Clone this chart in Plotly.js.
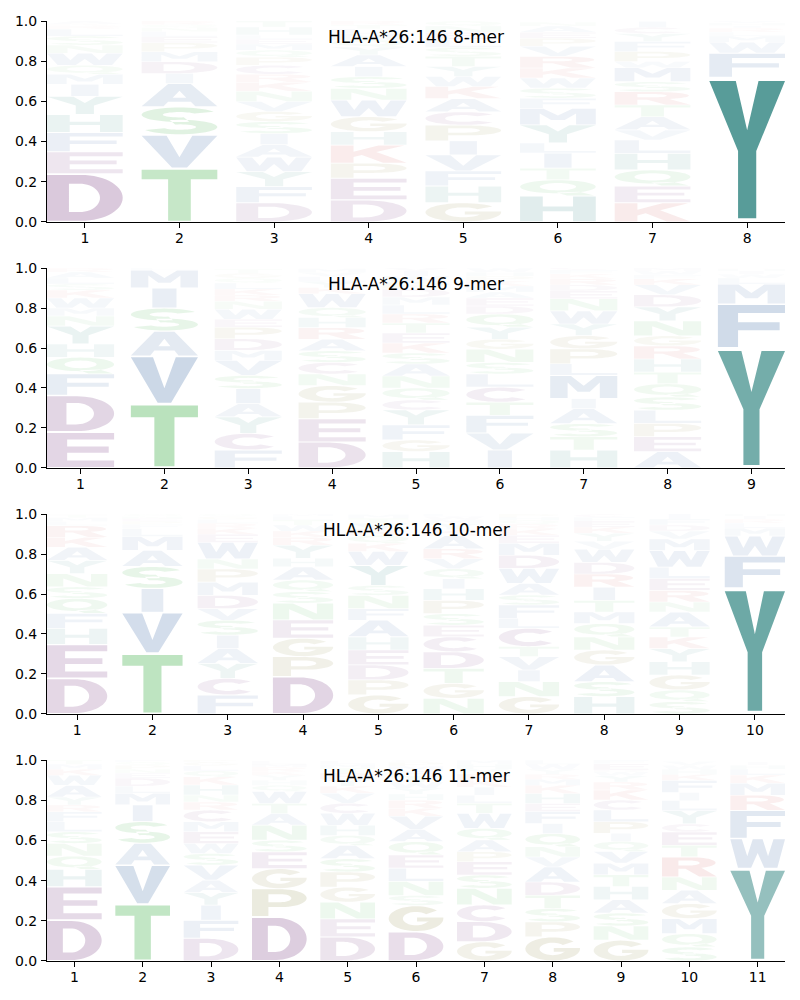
<!DOCTYPE html>
<html><head><meta charset="utf-8">
<script src="https://cdn.plot.ly/plotly-3.0.1.min.js"></script>
<style>html,body{margin:0;padding:0;background:#fff}</style>
</head><body>
<div id="chart" style="width:800px;height:1000px"></div>
<script>
// ---------------- DATA ----------------
const titles = ["HLA-A*26:146 8-mer", "HLA-A*26:146 9-mer", "HLA-A*26:146 10-mer", "HLA-A*26:146 11-mer"];

// letters per position, stacked bottom -> top, with matching probabilities
const letters8 = ["DEFHYIMQWNSLRKA","TVSAIDMPELNQR","DFYWAISGVNKRCPQMELHT","DEPKHGWNSIAYQMLTR",
  "GHFVIPCAKWYTSLENQ","HQTILYMFSWKRVPEAN","KEQHLVATRSMWPFYCI","YFWMLRIHV"];
const values8 = [
  [.24,.11,.095,.09,.09,.06,.05,.045,.06,.04,.045,.035,.015,.01,.015],
  [.267,.166,.14,.116,.05,.058,.05,.045,.03,.025,.02,.015,.018],
  [.096,.08,.075,.072,.062,.055,.06,.05,.05,.05,.045,.04,.045,.04,.035,.03,.025,.02,.04,.03],
  [.11,.108,.075,.09,.066,.075,.083,.058,.058,.05,.058,.04,.035,.03,.025,.02,.02],
  [.096,.083,.075,.08,.07,.078,.066,.066,.06,.05,.05,.05,.045,.04,.035,.03,.025],
  [.13,.08,.058,.075,.05,.09,.083,.05,.05,.05,.05,.058,.05,.04,.03,.03,.02],
  [.096,.083,.08,.083,.066,.05,.066,.058,.066,.05,.07,.03,.05,.05,.04,.03,.03],
  [.72,.12,.055,.03,.02,.02,.012,.013,.01]
];

const letters9 = ["EDFQHYNMWKSLAR","TVASIML","FCYAISVMDPEWNRKLQGT","DEPGNCSARHQWKYLVM",
  "HGFYCQNASKETRLMDPWIV","IVFTCLSNGYQDEAMKPHW","HTSAIMLPGYWNEDRKFC","AEPLSQTHRGNYDVKFWM","YFMLWIHR"];
const values9 = [
  [.18,.183,.108,.083,.066,.09,.05,.04,.05,.04,.03,.03,.03,.02],
  [.32,.24,.125,.115,.1,.09,.01],
  [.09,.083,.083,.066,.075,.066,.075,.05,.058,.058,.04,.05,.04,.03,.03,.03,.025,.025,.02],
  [.13,.116,.083,.083,.058,.058,.058,.058,.058,.05,.05,.07,.03,.03,.025,.02,.02],
  [.082,.058,.075,.075,.05,.06,.06,.06,.055,.05,.05,.05,.045,.045,.04,.04,.035,.03,.025,.015],
  [.09,.085,.088,.066,.075,.066,.058,.066,.05,.06,.066,.04,.04,.03,.03,.025,.025,.02,.02],
  [.09,.066,.066,.075,.05,.116,.058,.075,.066,.058,.066,.06,.04,.03,.03,.025,.02,.015],
  [.082,.075,.066,.066,.066,.066,.058,.066,.066,.05,.075,.07,.06,.05,.03,.02,.02,.014],
  [.6,.22,.1,.03,.02,.015,.01,.005]
];

const letters10 = ["DEHFQSNYAKRLMT","TVISAMLFPENQ","FCYAISVDMPNWEKRLGQ","DPGENSQAHYRKWTLM",
  "GPDEHAFNSYWKQRVTM","NGTDCESPHIQVRAKYMWL","GNIVTCLFSAWDMEKRQHP","HSAGNQMTIRDWVYKEFC",
  "SQGHYKTANRELWMVDFI","YFWMLRIH"];
const values10 = [
  [.178,.17,.08,.075,.075,.058,.066,.066,.066,.05,.058,.02,.02,.015],
  [.303,.205,.12,.11,.08,.07,.04,.02,.015,.015,.01,.012],
  [.095,.083,.075,.075,.066,.075,.058,.066,.066,.066,.05,.083,.04,.03,.025,.02,.015,.012],
  [.187,.1,.092,.092,.083,.058,.058,.066,.042,.066,.04,.03,.03,.025,.02,.01],
  [.095,.075,.075,.075,.066,.083,.058,.066,.05,.1,.07,.04,.04,.03,.03,.025,.02],
  [.078,.075,.075,.083,.075,.058,.058,.066,.058,.05,.05,.05,.05,.066,.03,.03,.02,.015,.013],
  [.087,.075,.058,.067,.05,.092,.05,.066,.05,.058,.075,.066,.06,.04,.03,.025,.02,.015,.016],
  [.087,.075,.083,.075,.066,.066,.058,.058,.066,.066,.058,.066,.04,.04,.03,.03,.02,.015],
  [.062,.058,.075,.066,.066,.058,.05,.075,.05,.058,.06,.056,.083,.058,.04,.03,.03,.025],
  [.63,.16,.1,.04,.025,.02,.015,.01]
];

const letters11 = ["DEHQNSLFRYAWKMT","TVASIMLDENPQF","DFIYAVSWEMCRNHKQLGP","DPGESNATWQHYKRML",
  "DENGPSAQHWCVKYRTML","DGSNLEQAVKRHYWTFMPC","GDCNSEPAQWTLIKRYHM","GPSTDAVNQIFEHKMRYWL",
  "GNSAHTMVQIPLCKRYWDEF","SQMGANRTECYLIFKHWV","YWFRMKLHI"];
const values11 = [
  [.204,.166,.086,.066,.063,.058,.05,.05,.033,.04,.058,.05,.03,.025,.02],
  [.283,.195,.108,.108,.083,.058,.035,.04,.025,.02,.02,.015,.01],
  [.113,.09,.075,.062,.062,.075,.058,.05,.058,.05,.058,.04,.035,.05,.04,.03,.025,.02,.015],
  [.22,.14,.1,.083,.058,.075,.058,.05,.06,.03,.025,.025,.02,.02,.015,.015],
  [.12,.09,.083,.075,.075,.066,.066,.05,.05,.06,.05,.05,.035,.035,.03,.025,.02,.015],
  [.146,.13,.05,.07,.066,.066,.066,.06,.066,.04,.04,.03,.03,.03,.03,.025,.025,.02,.01],
  [.096,.1,.083,.083,.066,.066,.05,.058,.058,.075,.05,.04,.04,.035,.03,.025,.025,.02],
  [.12,.075,.066,.066,.066,.075,.05,.05,.066,.05,.06,.04,.05,.04,.03,.025,.025,.025,.02],
  [.104,.07,.065,.066,.066,.058,.058,.058,.05,.04,.058,.058,.05,.05,.04,.03,.02,.01,.03,.02],
  [.07,.066,.075,.075,.066,.066,.1,.058,.066,.04,.066,.05,.04,.06,.03,.025,.02,.02],
  [.46,.15,.14,.075,.06,.04,.03,.02,.015]
];

// ---------------- STYLE ----------------
const groupColors = {
  purple: [100, 30, 110], green: [40, 165, 50], blue: [40, 90, 155],
  teal: [23, 118, 114], red: [195, 45, 45], olive: [115, 110, 25]
};
const letterGroup = {D:'purple',E:'purple',C:'purple',S:'green',T:'green',N:'green',Q:'green',
  A:'blue',V:'blue',F:'blue',I:'blue',L:'blue',M:'blue',W:'blue',Y:'teal',H:'teal',K:'red',R:'red',G:'olive',P:'olive'};

// ---------------- GLYPHS (unit box, y up) ----------------
function arc(cx, cy, rx, ry, a0, a1, n) {
  const p = [];
  for (let i = 0; i <= n; i++) {
    const a = (a0 + (a1 - a0) * i / n) * Math.PI / 180;
    p.push([cx + rx * Math.cos(a), cy + ry * Math.sin(a)]);
  }
  return p;
}
const G = {
  A: {o: [[[0,0],[0.29,0],[0.35,0.2],[0.65,0.2],[0.71,0],[1,0],[0.65,1],[0.35,1]]], h: [[[0.41,0.38],[0.59,0.38],[0.5,0.7]]]},
  C: {o: [arc(0.5,0.5,0.5,0.5,40,320,44).concat(arc(0.5,0.5,0.24,0.27,320,40,34))], h: []},
  D: {o: [[[0,0],[0.45,0]].concat(arc(0.45,0.5,0.55,0.5,-90,90,30)).concat([[0.45,1],[0,1]])],
      h: [[[0.29,0.19],[0.43,0.19]].concat(arc(0.43,0.5,0.27,0.31,-90,90,24)).concat([[0.43,0.81],[0.29,0.81]])]},
  E: {o: [[[0,0],[1,0],[1,0.19],[0.3,0.19],[0.3,0.42],[0.92,0.42],[0.92,0.6],[0.3,0.6],[0.3,0.81],[1,0.81],[1,1],[0,1]]], h: []},
  F: {o: [[[0,0],[0.3,0],[0.3,0.4],[0.92,0.4],[0.92,0.59],[0.3,0.59],[0.3,0.81],[1,0.81],[1,1],[0,1]]], h: []},
  G: {o: [arc(0.5,0.5,0.5,0.5,40,360,44).concat([[1,0.54],[0.52,0.54],[0.52,0.38],[0.74,0.38]]).concat(arc(0.5,0.5,0.24,0.27,330,40,34))], h: []},
  H: {o: [[[0,0],[0.3,0],[0.3,0.41],[0.7,0.41],[0.7,0],[1,0],[1,1],[0.7,1],[0.7,0.6],[0.3,0.6],[0.3,1],[0,1]]], h: []},
  I: {o: [[[0.32,0],[0.68,0],[0.68,1],[0.32,1]]], h: []},
  K: {o: [[[0,0],[0.3,0],[0.3,0.33],[0.41,0.45],[0.69,0],[1,0],[0.6,0.62],[0.97,1],[0.63,1],[0.3,0.64],[0.3,1],[0,1]]], h: []},
  L: {o: [[[0,0],[1,0],[1,0.19],[0.32,0.19],[0.32,1],[0,1]]], h: []},
  M: {o: [[[0,0],[0.26,0],[0.26,0.7],[0.41,0.28],[0.59,0.28],[0.74,0.7],[0.74,0],[1,0],[1,1],[0.69,1],[0.5,0.56],[0.31,1],[0,1]]], h: []},
  N: {o: [[[0,0],[0.27,0],[0.27,0.64],[0.67,0],[1,0],[1,1],[0.73,1],[0.73,0.36],[0.33,1],[0,1]]], h: []},
  P: {o: [[[0,0],[0.3,0],[0.3,0.34],[0.55,0.34]].concat(arc(0.55,0.67,0.45,0.33,-90,90,24)).concat([[0.55,1],[0,1]])],
      h: [[[0.3,0.52],[0.52,0.52]].concat(arc(0.52,0.67,0.2,0.15,-90,90,16)).concat([[0.52,0.82],[0.3,0.82]])]},
  Q: {o: [arc(0.5,0.57,0.5,0.43,0,360,48), [[0.48,0.2],[0.62,0],[0.98,0],[0.78,0.24]]], h: [arc(0.5,0.57,0.24,0.24,0,360,36)]},
  R: {o: [[[0,0],[0.3,0],[0.3,0.4],[0.43,0.4],[0.68,0],[1,0],[0.72,0.46]].concat(arc(0.55,0.72,0.43,0.28,-55,90,20)).concat([[0.55,1],[0,1]])],
      h: [[[0.3,0.58],[0.5,0.58]].concat(arc(0.5,0.71,0.19,0.13,-90,90,16)).concat([[0.5,0.84],[0.3,0.84]])]},
  S: {o: [arc(0.5,0.73,0.5,0.27,25,285,36).concat(arc(0.5,0.73,0.22,0.1,285,25,28)),
          arc(0.5,0.27,0.5,0.27,105,-155,36).concat(arc(0.5,0.27,0.22,0.1,-155,105,28))], h: []},
  T: {o: [[[0,1],[1,1],[1,0.81],[0.65,0.81],[0.65,0],[0.35,0],[0.35,0.81],[0,0.81]]], h: []},
  V: {o: [[[0,1],[0.33,1],[0.5,0.32],[0.67,1],[1,1],[0.6,0],[0.4,0]]], h: []},
  W: {o: [[[0,1],[0.21,1],[0.31,0.4],[0.41,1],[0.59,1],[0.69,0.4],[0.79,1],[1,1],[0.86,0],[0.62,0],[0.5,0.52],[0.38,0],[0.14,0]]], h: []},
  Y: {o: [[[0,1],[0.35,1],[0.5,0.64],[0.65,1],[1,1],[0.62,0.49],[0.62,0],[0.38,0],[0.38,0.49]]], h: []}
};
function signedArea(c) {
  let s = 0;
  for (let i = 0; i < c.length; i++) { const a = c[i], b = c[(i + 1) % c.length]; s += a[0] * b[1] - b[0] * a[1]; }
  return s / 2;
}
function orient(c, ccw) { return (signedArea(c) > 0) === ccw ? c : c.slice().reverse(); }
function glyphPath(ch, x0, y0, w, h) {
  const g = G[ch];
  const contours = g.o.map(c => orient(c, true)).concat(g.h.map(c => orient(c, false)));
  return contours.map(c => 'M' + c.map(p => (x0 + p[0] * w).toFixed(4) + ',' + (y0 + p[1] * h).toFixed(4)).join('L') + 'Z').join(' ');
}
function letterColor(ch, v) {
  const c = groupColors[letterGroup[ch]];
  const a = Math.min(1, Math.max(0, v));
  return 'rgba(' + c[0] + ',' + c[1] + ',' + c[2] + ',' + a.toFixed(3) + ')';
}

// ---------------- BUILD ----------------
const logos = [
  {letters: letters8, values: values8},
  {letters: letters9, values: values9},
  {letters: letters10, values: values10},
  {letters: letters11, values: values11}
];
const domains = [[0.7862, 1], [0.5245, 0.7372], [0.2628, 0.4755], [0, 0.2138]];
const GLYPH_W = 0.8, VPAD = 0.05;
const shapes = [], annotations = [], traces = [];
const layout = {
  width: 800, height: 1000, margin: {l: 47, r: 15, t: 21, b: 39},
  paper_bgcolor: '#fff', plot_bgcolor: '#fff', showlegend: false,
  font: {family: 'DejaVu Sans', color: '#000'}
};
const yticks = [0, 0.2, 0.4, 0.6, 0.8, 1.0];
logos.forEach((lg, k) => {
  const s = k === 0 ? '' : String(k + 1);
  const xr = 'x' + s, yr = 'y' + s;
  const n = lg.letters.length;
  const positions = lg.letters.map((_, i) => i + 1);
  traces.push({x: positions, y: positions.map(() => 0), xaxis: xr, yaxis: yr, mode: 'markers',
    marker: {opacity: 0}, hoverinfo: 'skip', showlegend: false});
  layout['xaxis' + s] = {domain: [0, 1], anchor: yr, range: [0.6, n + 0.4], tickmode: 'array',
    tickvals: positions, ticktext: positions.map(String), showline: true, linecolor: '#000', linewidth: 1,
    ticks: 'outside', ticklen: 5, tickwidth: 1, tickcolor: '#000', showgrid: false, zeroline: false,
    ticklabelstandoff: -2,
    tickfont: {family: 'DejaVu Sans', size: 14, color: '#000'}, fixedrange: true};
  layout['yaxis' + s] = {domain: domains[k], anchor: xr, range: [0, 1], tickmode: 'array',
    tickvals: yticks, ticktext: yticks.map(v => v.toFixed(1)), showline: true, linecolor: '#000', linewidth: 1,
    ticks: 'outside', ticklen: 5, tickwidth: 1, tickcolor: '#000', showgrid: false, zeroline: false,
    ticklabelstandoff: 1,
    tickfont: {family: 'DejaVu Sans', size: 14, color: '#000'}, fixedrange: true};
  annotations.push({text: titles[k], xref: xr + ' domain', yref: yr + ' domain', x: 0.5, y: 1,
    xanchor: 'center', yanchor: 'top', yshift: -4, showarrow: false,
    font: {family: 'DejaVu Sans', size: 17, color: '#000'}});
  lg.letters.forEach((str, i) => {
    const pos = positions[i];
    let base = 0;
    [...str].forEach((ch, j) => {
      const v = lg.values[i][j];
      const y0 = base + v * VPAD / 2, hh = v * (1 - VPAD);
      shapes.push({type: 'path', xref: xr, yref: yr, path: glyphPath(ch, pos - GLYPH_W / 2, y0, GLYPH_W, hh),
        fillcolor: letterColor(ch, v), line: {width: 0}, layer: 'above'});
      base += v;
    });
  });
});
layout.shapes = shapes;
layout.annotations = annotations;
Plotly.newPlot('chart', traces, layout, {displayModeBar: false, staticPlot: true});
</script>
</body></html>
